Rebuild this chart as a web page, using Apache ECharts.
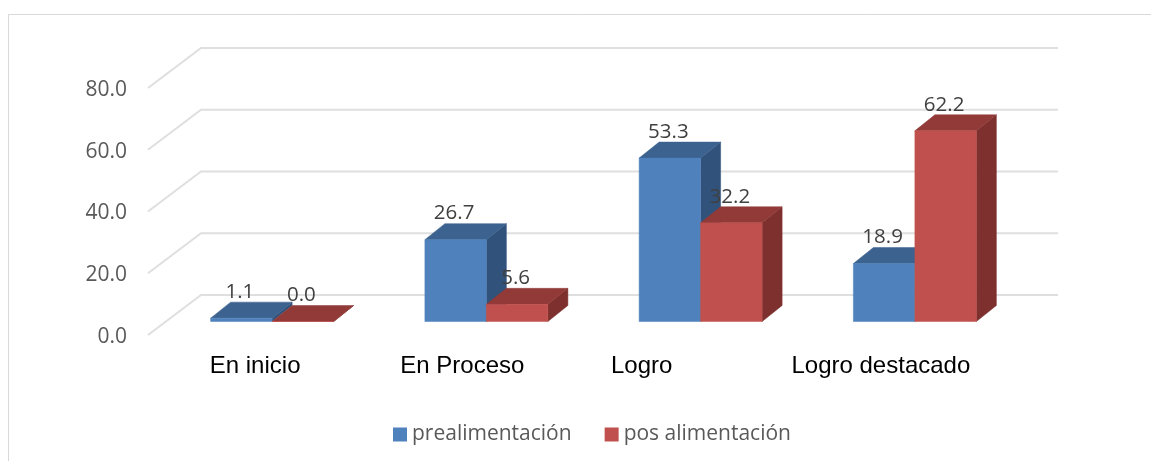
<!DOCTYPE html>
<html>
<head>
<meta charset="utf-8">
<style>html,body{margin:0;padding:0;background:#fff}#c{width:1151px;height:461px}</style>
<script src="https://cdn.jsdelivr.net/npm/echarts@6/dist/echarts.min.js"></script>
</head>
<body>
<div id="c"></div>
<script>
const categories = ['En inicio', 'En Proceso', 'Logro', 'Logro destacado'];
const prealimentacion = [1.1, 26.7, 53.3, 18.9];
const posAlimentacion = [0.0, 5.6, 32.2, 62.2];
const yTicks = [0, 20, 40, 60, 80];
const labelShift = [0, -7, -42, -17];

const FLOOR_DX = 53, FLOOR_DY = -40;   // depth of the 3D floor / walls
const BAR_DX = 20, BAR_DY = -16;       // depth of each bar
const PLANE_DX = 17, PLANE_DY = -13.5; // bars stand this far behind the front edge
const BAR_FRAC = 0.287;
const BAR_SCALE = 0.993;               // slight perspective shrink of the bar plane
const VALUE_FONT = '"Open Sans", sans-serif';

function barTop(base, top) { return base[1] - (base[1] - top[1]) * BAR_SCALE + PLANE_DY; }

function barRenderer(side, colors) {
  return function (params, api) {
    const idx = api.value(0), val = api.value(1);
    const base = api.coord([idx, 0]), top = api.coord([idx, val]);
    const w = api.size([1, 0])[0] * BAR_FRAC;
    const x0 = base[0] + PLANE_DX + (side === 0 ? -w : 0), x1 = x0 + w;
    const yb = base[1] + PLANE_DY, yt = barTop(base, top);
    const poly = (pts, fill) => ({
      type: 'polygon', shape: { points: pts },
      style: { fill: fill, stroke: fill, lineWidth: 0.5 }
    });
    return {
      type: 'group',
      children: [
        poly([[x1, yb], [x1 + BAR_DX, yb + BAR_DY], [x1 + BAR_DX, yt + BAR_DY], [x1, yt]], colors.side),
        poly([[x0, yt], [x1, yt], [x1 + BAR_DX, yt + BAR_DY], [x0 + BAR_DX, yt + BAR_DY]], colors.top),
        poly([[x0, yb], [x1, yb], [x1, yt], [x0, yt]], colors.front)
      ]
    };
  };
}
function valueLabelRenderer(side) {
  return function (params, api) {
    const idx = api.value(0), val = api.value(1);
    const base = api.coord([idx, 0]), top = api.coord([idx, val]);
    const w = api.size([1, 0])[0] * BAR_FRAC;
    const x0 = base[0] + PLANE_DX + (side === 0 ? -w : 0);
    return {
      type: 'text', z2: 100,
      style: {
        x: x0 + w / 2 - 1.5, y: barTop(base, top) - 26,
        text: val.toFixed(1), fill: '#404040',
        font: '400 20.5px ' + VALUE_FONT, align: 'center', verticalAlign: 'middle'
      }
    };
  };
}
function pairs(arr) { return arr.map((v, i) => [i, v]); }

const chart = echarts.init(document.getElementById('c'), null, { renderer: 'canvas' });
chart.setOption({
  animation: false,
  backgroundColor: '#ffffff',
  textStyle: { fontFamily: VALUE_FONT },
  graphic: [{
    type: 'rect', silent: true, z: -1,
    shape: { x: 8.5, y: 14.5, width: 1300, height: 600 },
    style: { fill: 'none', stroke: '#d9d9d9', lineWidth: 1 }
  }],
  legend: {
    left: 393, top: 424, padding: 0, itemWidth: 14, itemHeight: 14, itemGap: 33, itemTextGap: 5,
    icon: 'rect',
    data: ['prealimentación', 'pos alimentación'],
    textStyle: { color: '#595959', fontSize: 21, fontFamily: VALUE_FONT }
  },
  grid: { left: 148, right: 146, top: 88, bottom: 126, containLabel: false },
  xAxis: {
    type: 'category', data: categories,
    axisLine: { show: false }, axisTick: { show: false }, axisLabel: { show: false }
  },
  yAxis: {
    type: 'value', min: 0, max: 80, interval: 20,
    axisLine: { show: false }, axisTick: { show: false }, splitLine: { show: false },
    axisLabel: {
      color: '#595959', fontSize: 21, fontFamily: VALUE_FONT, margin: 21,
      verticalAlign: 'top', lineHeight: 4,
      formatter: v => v.toFixed(1)
    }
  },
  series: [
    {
      type: 'custom', name: 'grid3d', silent: true, z: 1,
      data: yTicks.map(v => [0, v]),
      renderItem: function (params, api) {
        const y = api.coord([0, api.value(1)])[1];
        const cs = params.coordSys;
        return {
          type: 'polyline',
          shape: { points: [[cs.x, y], [cs.x + FLOOR_DX, y + FLOOR_DY], [cs.x + cs.width + FLOOR_DX, y + FLOOR_DY]] },
          style: { fill: 'none', stroke: '#dfdfdf', lineWidth: 2 }
        };
      }
    },
    {
      type: 'custom', name: 'prealimentación', z: 2,
      itemStyle: { color: '#4f81bd' },
      data: pairs(prealimentacion),
      renderItem: barRenderer(0, { front: '#4f81bd', top: '#3c628f', side: '#30527b' })
    },
    {
      type: 'custom', name: 'pos alimentación', z: 3,
      itemStyle: { color: '#c0504d' },
      data: pairs(posAlimentacion),
      renderItem: barRenderer(1, { front: '#c0504d', top: '#913a38', side: '#7d302e' })
    },
    {
      type: 'custom', name: 'labelsA', silent: true, z: 5,
      data: pairs(prealimentacion), renderItem: valueLabelRenderer(0)
    },
    {
      type: 'custom', name: 'labelsB', silent: true, z: 5,
      data: pairs(posAlimentacion), renderItem: valueLabelRenderer(1)
    },
    {
      type: 'custom', name: 'categoryLabels', silent: true, z: 5,
      data: categories.map((c, i) => [i, 0]),
      renderItem: function (params, api) {
        const i = api.value(0);
        const p = api.coord([i, 0]);
        return {
          type: 'text',
          style: {
            x: p[0] + labelShift[i], y: p[1] + 31,
            text: categories[i], fill: '#000000',
            font: '400 24px "Liberation Sans", Arial, sans-serif',
            align: 'center', verticalAlign: 'middle'
          }
        };
      }
    }
  ]
});
</script>
</body>
</html>
